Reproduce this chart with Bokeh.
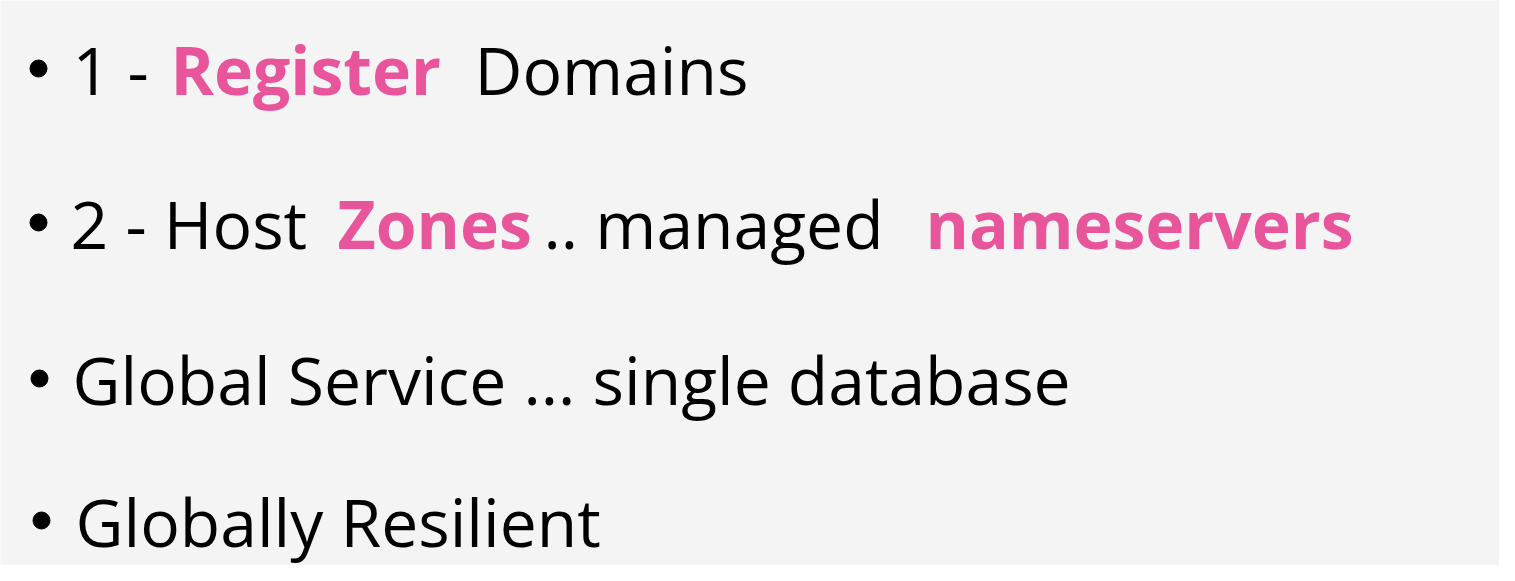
from bokeh.plotting import figure
from bokeh.models import Range1d, ColumnDataSource
from bokeh.core.properties import value
from bokeh.embed import file_html
from bokeh.resources import INLINE

W, H = 1499, 565
PINK = "#e8559b"

# text segments of each bullet line
seg_text = ["1 -", "Register", "Domains",
            "2 - Host", "Zones", ".. managed", "nameservers",
            "Global Service ... single database",
            "Globally Resilient"]
seg_line = [0, 0, 0, 1, 1, 1, 1, 2, 3]
seg_bold = [False, True, False, False, True, False, True, False, False]
seg_x = [72, 170, 474, 70, 337, 543, 925, 72, 75]

line_y = [68, 222, 378, 520]
bullet_x = [38, 38, 39, 41]

p = figure(width=W, height=H, output_backend="svg", toolbar_location=None,
           x_range=Range1d(0, W), y_range=Range1d(H, 0), min_border=0)
p.axis.visible = False
p.grid.visible = False
p.outline_line_color = None
p.background_fill_color = "#f4f4f4"
p.border_fill_color = "#f4f4f4"

p.scatter(bullet_x, line_y, size=17, color="black")

src = ColumnDataSource(dict(
    x=seg_x,
    y=[line_y[i] for i in seg_line],
    text=seg_text,
    style=["bold" if b else "normal" for b in seg_bold],
    color=[PINK if b else "black" for b in seg_bold],
))
p.text(x="x", y="y", text="text", source=src, text_font_style="style",
       text_color="color", text_font=value("Open Sans"),
       text_font_size="66px", text_baseline="middle", text_align="left")

open("out.html", "w").write(file_html(p, INLINE))
